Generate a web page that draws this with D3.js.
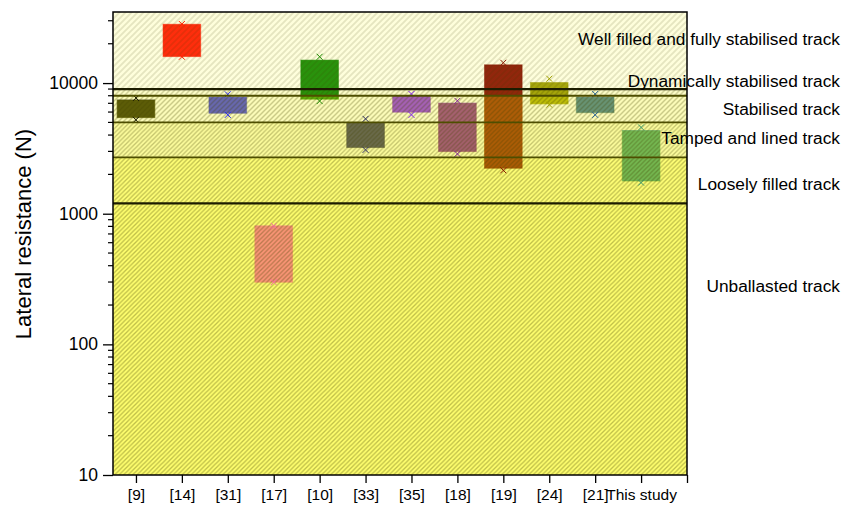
<!DOCTYPE html>
<html><head><meta charset="utf-8">
<script src="https://cdn.jsdelivr.net/npm/d3@7"></script>
<style>
html,body{margin:0;padding:0;background:#fff;}
svg{display:block;font-family:"Liberation Sans",Arial,sans-serif;}
</style></head>
<body><svg id="chart" width="845" height="506"></svg>
<script>
// ---- data ----
const categories = ["[9]","[14]","[31]","[17]","[10]","[33]","[35]","[18]","[19]","[24]","[21]","This study"];
const boxHigh   = [7430, 28200, 7800, 807, 15000, 4990, 7980, 7020, 13800, 10100, 7800, 4330];
const boxLow    = [5440, 15950, 5880, 299, 7530, 3210, 5990, 2990, 2230, 6930, 5940, 1780];
const whiskHigh = [7700, 28300, 8200, 807, 15900, 5320, 8250, 7310, 14300, 10800, 8250, 4580];
const whiskLow  = [5230, 15900, 5710, 299, 7280, 3080, 5710, 2870, 2150, 6840, 5710, 1730];
const boxColors = ["#1a1a00","#ff2200","#2a2ae8","#f86aa0","#1e8c00","#2e2e60","#8020f0","#802090","#8b1a00","#a0a000","#2a6696","#3c9a6a"];

const zoneNames  = ["Unballasted track","Loosely filled track","Tamped and lined track","Stabilised track","Dynamically stabilised track","Well filled and fully stabilised track"];
const zoneUpper  = [1200, 2700, 5000, 8000, 9000, 35000];
const zoneLabelAt = [280, 1690, 3800, 6340, 10300, 21800];

const yMajorTicks = [10, 100, 1000, 10000];
const yTitle = "Lateral resistance (N)";

// ---- layout ----
const L = 113, R = 687, T = 12, B = 475;
const svg = d3.select("#chart");
const x = d3.scaleLinear().domain([0.5, 13]).range([L, R]);
const y = d3.scaleLog().domain([10, 35000]).range([B, T]);

const zoneBg     = ["#ffff6e","#ffff76","#fcfc9c","#fbfbb8","#fcfcc6","#fefedc"];
const hatchOp    = [0.34, 0.33, 0.3, 0.26, 0.22, 0.13];
const hatchSize  = [4.5, 4.5, 4.5, 5, 5, 6];
const tintBelow = 8000;   // zones below this value tint the boxes yellow

const defs = svg.append("defs");
zoneUpper.forEach((u,i)=>{
  const s = hatchSize[i];
  const p = defs.append("pattern").attr("id","h"+i).attr("patternUnits","userSpaceOnUse")
    .attr("width",s).attr("height",s);
  p.append("path").attr("d",`M0,${s}L${s},0M${-s/2},${s/2}L${s/2},${-s/2}M${s/2},${s*1.5}L${s*1.5},${s/2}`)
    .attr("stroke","#404000").attr("stroke-opacity",hatchOp[i]).attr("stroke-width",s*0.3).attr("fill","none");
});
defs.append("clipPath").attr("id","plotclip").append("rect")
  .attr("x",L).attr("y",T).attr("width",R-L).attr("height",B-T);

const yTopVal = y.domain()[1];
const zoneLower = zoneUpper.map((u,i)=> i===0 ? y.domain()[0] : zoneUpper[i-1]);
const plot = svg.append("g").attr("clip-path","url(#plotclip)");

// band backgrounds
plot.selectAll("rect.bg").data(zoneUpper).join("rect").attr("class","bg")
  .attr("x",L).attr("width",R-L)
  .attr("y",u=>y(Math.min(u,yTopVal)))
  .attr("height",(u,i)=>y(zoneLower[i])-y(Math.min(u,yTopVal)))
  .attr("fill",(u,i)=>zoneBg[i]);

// boxes
const bw = 0.82;
const data = categories.map((c,i)=>({c,i,hi:boxHigh[i],lo:boxLow[i],wh:whiskHigh[i],wl:whiskLow[i],col:boxColors[i]}));
plot.selectAll("rect.box").data(data).join("rect").attr("class","box")
  .attr("x",d=>x(d.i+1-bw/2)).attr("width",x(bw)-x(0))
  .attr("y",d=>y(d.hi)).attr("height",d=>y(d.lo)-y(d.hi))
  .attr("fill",d=>d.col).attr("fill-opacity",0.95)
  .attr("stroke",d=>d.col).attr("stroke-opacity",0.5).attr("stroke-width",1);

// yellow tint of the lower zones over the boxes
plot.selectAll("rect.tint").data(data.filter(d=>d.lo<tintBelow)).join("rect").attr("class","tint")
  .attr("x",d=>x(d.i+1-bw/2)-0.5).attr("width",x(bw)-x(0)+1)
  .attr("y",d=>y(Math.min(d.hi,tintBelow))).attr("height",d=>y(d.lo)-y(Math.min(d.hi,tintBelow))+0.5)
  .attr("fill","#ffff00").attr("fill-opacity",0.25);

// hatch overlay
plot.selectAll("rect.hatch").data(zoneUpper).join("rect").attr("class","hatch")
  .attr("x",L).attr("width",R-L)
  .attr("y",u=>y(Math.min(u,yTopVal)))
  .attr("height",(u,i)=>y(zoneLower[i])-y(Math.min(u,yTopVal)))
  .attr("fill",(u,i)=>"url(#h"+i+")");

// whisker markers
const mk = 3;
const markers = [];
data.forEach(d=>{ markers.push({d,v:d.wh}); markers.push({d,v:d.wl}); });
plot.selectAll("path.mk").data(markers).join("path").attr("class","mk")
  .attr("d",m=>{const cx=x(m.d.i+1), cy=y(m.v);
    return `M${cx-mk},${cy-mk}L${cx+mk},${cy+mk}M${cx-mk},${cy+mk}L${cx+mk},${cy-mk}`;})
  .attr("stroke",m=>m.d.col).attr("stroke-width",1).attr("fill","none");

// zone boundary lines
const strong = u=> (u===9000||u===1200);
svg.selectAll("line.zl").data(zoneUpper.slice(0,5)).join("line").attr("class","zl")
  .attr("x1",L).attr("x2",R).attr("y1",u=>y(u)).attr("y2",u=>y(u))
  .attr("stroke",u=>strong(u)?"#1c1c00":"#4e4e00").attr("stroke-width",u=>strong(u)?2.2:1.8);

// frame
svg.append("rect").attr("x",L).attr("y",T).attr("width",R-L).attr("height",B-T)
  .attr("fill","none").attr("stroke","#000").attr("stroke-width",1.5);

// y axis
const yAxis = svg.append("g").attr("transform",`translate(${L},0)`)
  .call(d3.axisLeft(y).tickValues(yMajorTicks).tickFormat(d3.format("d")).tickSize(10).tickPadding(5));
yAxis.select(".domain").remove();
yAxis.selectAll("text").attr("font-size",17.5).attr("fill","#000").attr("font-family","Liberation Sans, Arial, sans-serif");
yAxis.selectAll("line").attr("stroke","#000").attr("stroke-width",1.3);
const minor = [];
for (let e=1;e<=4;e++) for (let k=2;k<=9;k++){ const v=k*Math.pow(10,e); if (v<=yTopVal) minor.push(v);}
svg.append("g").selectAll("line").data(minor).join("line")
  .attr("x1",L-5).attr("x2",L).attr("y1",d=>y(d)).attr("y2",d=>y(d))
  .attr("stroke","#000").attr("stroke-width",1.2);

// x axis
const xAxis = svg.append("g").attr("transform",`translate(0,${B})`)
  .call(d3.axisBottom(x).tickValues(d3.range(1,14)).tickFormat(d=>categories[d-1]||"").tickSize(8).tickPadding(6));
xAxis.select(".domain").remove();
xAxis.selectAll("text").attr("font-size",15.5).attr("fill","#000").attr("font-family","Liberation Sans, Arial, sans-serif");
xAxis.selectAll("line").attr("stroke","#000").attr("stroke-width",1.3);

// y title
svg.append("text").attr("transform",`translate(31,234) rotate(-90)`)
  .attr("text-anchor","middle").attr("font-size",22).attr("fill","#000").text(yTitle);

// zone labels
svg.selectAll("text.zlab").data(zoneNames).join("text").attr("class","zlab")
  .attr("x",840).attr("y",(n,i)=>y(zoneLabelAt[i])).attr("dy","0.35em")
  .attr("text-anchor","end").attr("font-size",17.3).attr("fill","#000").text(n=>n);
</script></body></html>
